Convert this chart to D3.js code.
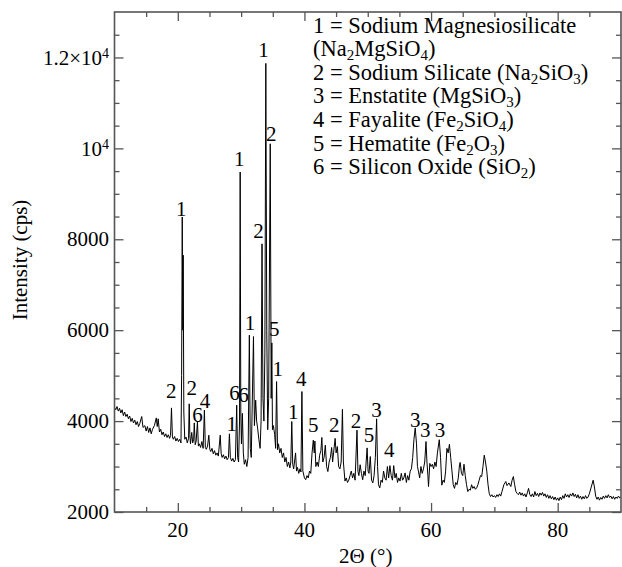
<!DOCTYPE html>
<html>
<head>
<meta charset="utf-8">
<script src="https://cdn.jsdelivr.net/npm/d3@7"></script>
<style>
  body { margin: 0; background: #fff; }
  svg { display: block; }
  svg text, svg tspan { font-family: 'Liberation Serif'; }
</style>
</head>
<body>
<svg id="chart" width="622" height="567"></svg>
<script>
const xrdPattern = [
  [10.0,4300],[10.2,4250],[10.4,4320],[10.6,4220],[10.8,4280],[11.0,4180],[11.2,4250],[11.4,4120],
  [11.6,4200],[11.8,4100],[12.0,4150],[12.2,4050],[12.4,4110],[12.6,3990],[12.8,4060],[13.0,3960],
  [13.2,4020],[13.4,3920],[13.6,3990],[13.8,3880],[14.0,3950],[14.3,4100],[14.5,3860],[14.8,3900],
  [15.0,3780],[15.2,3880],[15.4,3750],[15.6,3850],[15.8,3720],[16.0,3820],[16.3,3900],[16.6,4070],
  [16.75,3880],[16.9,4050],[17.1,3760],[17.3,3820],[17.5,3700],[17.7,3760],[17.9,3660],[18.1,3720],
  [18.3,3640],[18.5,3700],[18.7,3620],[18.85,3680],[19.0,4290],[19.15,3650],[19.3,3600],[19.5,3660],
  [19.7,3560],[19.9,3620],[20.1,3550],[20.3,3600],[20.5,3520],[20.6,5000],[20.7,8490],[20.78,6000],
  [20.85,7650],[20.95,4200],[21.1,3600],[21.3,3650],[21.5,3520],[21.7,3620],[21.8,4380],[21.9,3700],
  [22.0,3500],[22.2,3750],[22.35,3520],[22.5,3600],[22.6,3960],[22.75,3480],[22.9,3560],[23.1,3990],
  [23.25,3450],[23.4,3500],[23.6,3420],[23.8,3550],[24.0,3400],[24.2,4240],[24.35,3420],[24.5,3380],
  [24.7,3450],[24.9,3690],[25.05,3380],[25.2,3330],[25.4,3400],[25.6,3280],[25.8,3350],[26.0,3250],
  [26.2,3300],[26.4,3230],[26.7,3690],[26.85,3280],[27.0,3200],[27.2,3260],[27.4,3170],[27.6,3230],
  [27.8,3150],[28.0,3200],[28.15,3720],[28.3,3200],[28.5,3120],[28.7,3180],[28.9,3100],[29.1,3150],
  [29.3,4350],[29.45,3200],[29.6,3100],[29.75,4000],[29.85,9480],[29.95,4200],[30.05,3500],[30.2,4170],
  [30.35,3300],[30.5,3050],[30.7,3150],[30.9,3000],[31.1,3200],[31.3,5890],[31.45,3400],[31.6,3200],
  [31.95,5860],[32.1,3900],[32.3,4460],[32.45,4000],[32.6,3850],[32.8,3600],[33.0,3400],[33.15,4000],
  [33.3,7900],[33.45,4500],[33.6,4000],[33.75,5500],[33.9,11870],[34.05,6000],[34.2,3810],[34.35,4500],
  [34.6,10100],[34.75,4500],[34.85,5720],[34.95,3810],[35.1,3900],[35.3,3700],[35.45,3400],[35.6,4870],
  [35.75,3370],[35.9,3500],[36.1,3300],[36.3,3400],[36.5,3200],[36.7,3300],[36.9,3100],[37.1,3200],
  [37.3,3000],[37.5,3100],[37.7,2970],[37.85,3100],[38.0,3990],[38.15,3050],[38.3,2950],[38.6,3300],
  [38.75,2900],[38.9,2980],[39.1,2850],[39.3,2950],[39.45,2880],[39.6,4650],[39.75,2900],[40.0,2750],
  [40.2,2710],[40.4,2800],[40.6,2750],[40.8,2900],[41.0,2850],[41.2,3300],[41.4,3580],[41.55,3300],
  [41.65,3560],[41.8,3000],[42.0,3100],[42.2,3000],[42.4,3250],[42.6,3350],[42.75,3640],[42.9,3100],
  [43.1,3200],[43.3,3470],[43.5,3000],[43.7,2890],[43.9,3100],[44.1,3200],[44.3,3420],[44.45,3100],
  [44.6,3300],[44.85,3620],[45.0,3300],[45.2,3440],[45.4,3000],[45.6,2950],[45.8,3100],[46.0,4260],
  [46.15,3100],[46.4,2680],[46.6,2750],[46.8,2650],[47.0,2700],[47.2,2800],[47.4,2900],[47.6,2750],
  [47.8,2850],[48.0,2700],[48.3,3800],[48.45,2900],[48.6,2800],[48.8,3040],[49.0,2850],[49.2,2710],
  [49.4,2900],[49.6,2800],[49.9,3410],[50.05,2900],[50.2,2850],[50.4,3220],[50.6,2700],[50.8,2640],
  [51.0,2800],[51.2,3200],[51.4,4050],[51.55,3000],[51.7,2600],[51.9,2530],[52.1,2700],[52.3,2650],
  [52.5,2900],[52.7,2750],[52.9,2700],[53.1,3000],[53.3,2750],[53.5,3020],[53.7,2800],[53.9,2700],
  [54.1,3020],[54.3,2750],[54.5,2850],[54.7,2650],[54.9,2750],[55.1,2680],[55.3,2850],[55.5,2700],
  [55.7,2750],[55.9,2860],[56.1,2650],[56.3,2800],[56.5,2700],[56.7,2900],[56.9,2950],[57.1,3200],
  [57.3,3600],[57.5,3850],[57.7,3500],[57.85,3000],[58.0,2900],[58.2,2750],[58.4,3000],[58.6,2850],
  [58.8,2950],[59.0,3100],[59.2,3550],[59.35,3100],[59.5,2800],[59.6,2560],[59.8,3070],[60.0,3000],
  [60.2,3050],[60.4,2950],[60.6,3100],[60.8,3000],[61.0,3300],[61.3,3590],[61.5,3200],[61.7,2590],
  [61.9,2700],[62.1,2650],[62.3,2900],[62.5,3400],[62.7,3300],[62.9,3490],[63.1,3200],[63.3,2900],
  [63.5,2600],[63.7,2520],[63.9,2650],[64.1,2600],[64.3,2750],[64.5,3050],[64.6,3090],[64.8,2850],
  [65.0,2800],[65.2,3050],[65.4,2800],[65.6,2600],[65.8,2450],[66.0,2500],[66.2,2480],[66.4,2600],
  [66.6,2520],[66.8,2560],[67.0,2500],[67.2,2530],[67.4,2600],[67.6,2700],[67.8,2800],[68.0,2780],
  [68.2,3000],[68.4,3250],[68.6,3100],[68.8,2900],[69.0,2600],[69.2,2400],[69.4,2340],[69.6,2380],
  [69.8,2330],[70.0,2360],[70.2,2320],[70.4,2380],[70.6,2340],[70.8,2400],[71.0,2350],[71.2,2450],
  [71.5,2600],[71.8,2670],[72.0,2580],[72.3,2640],[72.6,2560],[72.8,2700],[73.0,2780],[73.2,2600],
  [73.4,2450],[73.6,2410],[73.8,2380],[74.0,2440],[74.2,2370],[74.4,2420],[74.6,2350],[74.8,2400],
  [75.0,2330],[75.2,2420],[75.4,2520],[75.6,2380],[75.8,2340],[76.0,2400],[76.2,2330],[76.4,2450],
  [76.6,2360],[76.8,2410],[77.0,2340],[77.2,2420],[77.4,2370],[77.6,2430],[77.8,2350],[78.0,2400],
  [78.2,2320],[78.4,2380],[78.6,2300],[78.8,2360],[79.0,2290],[79.2,2340],[79.4,2270],[79.6,2330],
  [79.8,2260],[80.0,2310],[80.2,2250],[80.4,2330],[80.6,2270],[80.8,2360],[81.0,2300],[81.2,2400],
  [81.4,2330],[81.6,2380],[81.8,2320],[82.0,2400],[82.2,2350],[82.4,2420],[82.6,2340],[82.8,2390],
  [83.0,2310],[83.2,2380],[83.4,2300],[83.6,2350],[83.8,2280],[84.0,2340],[84.2,2290],[84.4,2360],
  [84.6,2300],[84.8,2330],[85.0,2400],[85.3,2550],[85.6,2700],[85.8,2550],[86.0,2350],[86.2,2280],
  [86.4,2330],[86.6,2260],[86.8,2320],[87.0,2280],[87.2,2350],[87.4,2300],[87.6,2360],[87.8,2310],
  [88.0,2380],[88.2,2320],[88.4,2350],[88.6,2290],[88.8,2340],[89.0,2280],[89.2,2330],[89.4,2300],
  [89.6,2350],[89.8,2310],[90.0,2330]
];

// axes
const xDomain = [10, 90];
const yDomain = [2000, 13000];
const xMajorTicks = [20, 40, 60, 80];
const xMinorTicks = [15, 25, 30, 35, 45, 50, 55, 65, 70, 75, 85];
const yMajorTicks = [2000, 4000, 6000, 8000, 10000, 12000];
const yTickLabels = ["2000", "4000", "6000", "8000", "10^4", "1.2×10^4"];
const yMinorTicks = [2500, 3000, 3500, 4500, 5000, 5500, 6500, 7000, 7500, 8500, 9000, 9500, 10500, 11000, 11500, 12500];

// phase numbers written over the peaks (text, 2theta, intensity at baseline)
const peakLabels = [
  ["1", 20.55, 8510], ["1", 29.7, 9610], ["1", 33.52, 12010], ["2", 34.74, 10160],
  ["2", 32.73, 8030], ["1", 31.42, 6010], ["5", 35.23, 5870], ["1", 35.79, 4985],
  ["2", 18.95, 4510], ["2", 22.2, 4570], ["6", 23.1, 3980], ["4", 24.3, 4290],
  ["1", 28.5, 3775], ["6", 28.97, 4460], ["6", 30.39, 4420], ["1", 38.25, 4046],
  ["4", 39.5, 4780], ["5", 41.4, 3765], ["2", 44.7, 3765], ["2", 48.15, 3855],
  ["5", 50.2, 3547], ["3", 51.4, 4097], ["4", 53.4, 3217], ["3", 57.5, 3877],
  ["3", 59.1, 3650], ["3", 61.4, 3650]
];

// legend, "_n" = subscript
const legendLines = [
  "1 = Sodium Magnesiosilicate",
  "(Na_2MgSiO_4)",
  "2 = Sodium Silicate (Na_2SiO_3)",
  "3 = Enstatite (MgSiO_3)",
  "4 = Fayalite (Fe_2SiO_4)",
  "5 = Hematite (Fe_2O_3)",
  "6 = Silicon Oxide (SiO_2)"
];

const svg = d3.select('#chart');
const margin = { top: 12, right: 1, bottom: 55, left: 114.5 };
const width = 622 - margin.left - margin.right;
const height = 567 - margin.top - margin.bottom;
const frameColor = '#555';
const FONT = 'Liberation Serif';

const x = d3.scaleLinear().domain(xDomain).range([0, width]);
const y = d3.scaleLinear().domain(yDomain).range([height, 0]);

const g = svg.append('g').attr('transform', `translate(${margin.left},${margin.top})`);

g.append('clipPath').attr('id', 'clip')
  .append('rect').attr('width', width).attr('height', height);

// the pattern
const line = d3.line().x(d => x(d[0])).y(d => y(d[1]));
g.append('path')
  .datum(xrdPattern)
  .attr('clip-path', 'url(#clip)')
  .attr('d', line)
  .attr('fill', 'none')
  .attr('stroke', '#000')
  .attr('stroke-width', 1)
  .attr('stroke-linejoin', 'round');

// ticks (all inward, on every side)
function tickAxis(axisFn, scale, values, size, transform) {
  const a = g.append('g')
    .attr('transform', transform)
    .call(axisFn(scale).tickValues(values).tickSize(-size).tickFormat(''));
  a.select('.domain').remove();
  a.selectAll('line').attr('stroke', frameColor).attr('stroke-width', 1.3);
  return a;
}
tickAxis(d3.axisBottom, x, xMajorTicks, 9, `translate(0,${height})`);
tickAxis(d3.axisBottom, x, xMinorTicks, 5, `translate(0,${height})`);
tickAxis(d3.axisTop, x, xMajorTicks, 9, 'translate(0,0)');
tickAxis(d3.axisTop, x, xMinorTicks, 5, 'translate(0,0)');
tickAxis(d3.axisLeft, y, yMajorTicks, 9, 'translate(0,0)');
tickAxis(d3.axisLeft, y, yMinorTicks, 5, 'translate(0,0)');
tickAxis(d3.axisRight, y, yMajorTicks, 9, `translate(${width},0)`);
tickAxis(d3.axisRight, y, yMinorTicks, 5, `translate(${width},0)`);

// frame
g.append('rect')
  .attr('width', width).attr('height', height)
  .attr('fill', 'none')
  .attr('stroke', frameColor)
  .attr('stroke-width', 1.6);

// tick labels
g.selectAll('.xlab')
  .data(xMajorTicks)
  .enter().append('text')
  .attr('font-family', FONT)
  .attr('x', d => x(d))
  .attr('y', height + 25)
  .attr('text-anchor', 'middle')
  .attr('font-size', 21)
  .text(d => d);

g.selectAll('.ylab')
  .data(yMajorTicks)
  .enter().append('text')
  .attr('font-family', FONT)
  .attr('x', -5.5)
  .attr('y', d => y(d))
  .attr('dy', '0.34em')
  .attr('text-anchor', 'end')
  .attr('font-size', 21)
  .each(function (d, i) {
    const parts = yTickLabels[i].split('^');
    const t = d3.select(this);
    t.append('tspan').text(parts[0]);
    if (parts[1]) {
      t.append('tspan').attr('dy', '-0.5em').attr('font-size', 14).text(parts[1]);
    }
  });

// axis titles
g.append('text')
  .attr('font-family', FONT)
  .attr('x', x(50) - 2)
  .attr('y', height + 51)
  .attr('text-anchor', 'middle')
  .attr('font-size', 21)
  .text('2Θ (°)');

svg.append('text')
  .attr('font-family', FONT)
  .attr('transform', 'translate(27,260) rotate(-90)')
  .attr('text-anchor', 'middle')
  .attr('font-size', 21)
  .text('Intensity (cps)');

// peak labels
g.selectAll('.peak')
  .data(peakLabels)
  .enter().append('text')
  .attr('font-family', FONT)
  .attr('x', d => x(d[1]))
  .attr('y', d => y(d[2]))
  .attr('text-anchor', 'middle')
  .attr('font-size', 21)
  .text(d => d[0]);

// legend : one text per line, subscripts as lowered tspans
const legend = svg.append('g').attr('transform', 'translate(313,32.5)');
legendLines.forEach((txt, i) => {
  const t = legend.append('text')
    .attr('font-family', FONT)
    .attr('x', 0)
    .attr('y', i * 23.6)
    .attr('font-size', 22.5);
  const parts = txt.split(/(_\d)/).filter(p => p);
  if (parts.length === 1) {
    t.text(txt);
    return;
  }
  let lowered = false;
  parts.forEach(part => {
    if (part[0] === '_') {
      t.append('tspan').attr('dy', 4).attr('font-size', 15).text(part.slice(1));
      lowered = true;
    } else {
      t.append('tspan').attr('dy', lowered ? -4 : null).text(part);
      lowered = false;
    }
  });
});
</script>
</body>
</html>
